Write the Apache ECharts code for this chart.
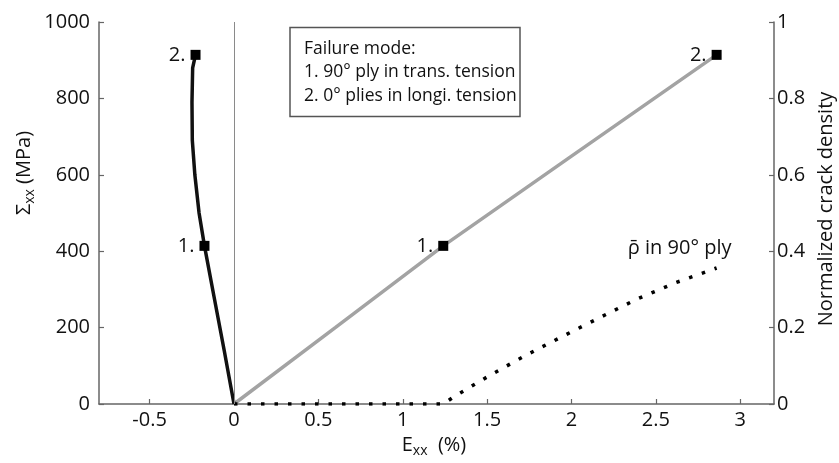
<!DOCTYPE html>
<html>
<head>
<meta charset="utf-8">
<script src="https://cdn.jsdelivr.net/npm/echarts@6/dist/echarts.min.js"></script>
<style>
  html, body { margin: 0; padding: 0; background: #fff; }
  #chart { width: 839px; height: 463px; }
</style>
</head>
<body>
<div id="chart"></div>
<script>
// Tick values of the three axes
const strainTicks = [-0.5, 0, 0.5, 1, 1.5, 2, 2.5, 3];
const stressTicks = [0, 200, 400, 600, 800, 1000];
const densityTicks = [0, 0.2, 0.4, 0.6, 0.8, 1];

// Transverse strain response (black curve): strain E_xx (%) vs stress (MPa)
const transStrain = [0, -0.058, -0.118, -0.175, -0.207, -0.232, -0.247, -0.249, -0.245, -0.228];
const transStress = [0, 140, 280, 414, 500, 600, 690, 790, 880, 914];

// Longitudinal strain response (grey curve)
const longStrain = [0, 0.6, 1.24, 2.0, 2.86];
const longStress = [0, 200, 414, 649, 914];

// Normalized crack density in the 90° ply (dotted curve, right axis)
const crackStrain = [0, 1.24, 1.31, 1.52, 1.74, 1.96, 2.18, 2.39, 2.62, 2.86];
const crackDensity = [0, 0, 0.021, 0.076, 0.13, 0.18, 0.229, 0.275, 0.318, 0.356];

// Failure events marked on both curves
const failureLabels = ['1.', '2.'];
const transFailStrain = [-0.175, -0.228];
const longFailStrain = [1.24, 2.86];
const failStress = [414, 914];

// Legend box lines
const boxLines = ['Failure mode:', '1. 90° ply in trans. tension', '2. 0° plies in longi. tension'];
const crackLabel = 'ρ\u0304 in 90° ply';

const FONT = '"Open Sans", "DejaVu Sans", sans-serif';
const TXT = '#111';
const AXIS = '#666';
const FS = 20;

const zip = (xs, ys) => xs.map((x, i) => [x, ys[i]]);
const markers = (xs) => xs.map((x, i) => [x, failStress[i], failureLabels[i]]);

const chart = echarts.init(document.getElementById('chart'), null, { renderer: 'canvas' });

const axisCommon = {
  axisLine: { show: true, onZero: false, lineStyle: { color: AXIS, width: 1.5 } },
  axisTick: { show: true, inside: true, length: 5, lineStyle: { color: AXIS, width: 1.2 } },
  splitLine: { show: false },
  axisLabel: { color: TXT, fontSize: FS, fontFamily: FONT, formatter: v => String(v) }
};

const markerLabel = {
  show: true, position: 'left', distance: 5,
  formatter: p => p.data[2], color: TXT, fontSize: FS, fontFamily: FONT
};

const option = {
  animation: false,
  backgroundColor: '#fff',
  grid: { left: 99, right: 65, top: 22, bottom: 59, containLabel: false },
  xAxis: {
    type: 'value', min: -0.8, max: 3.2,
    ...axisCommon,
    axisTick: { ...axisCommon.axisTick, customValues: strainTicks },
    axisLabel: { ...axisCommon.axisLabel, margin: 6, customValues: strainTicks }
  },
  yAxis: [
    {
      type: 'value', min: 0, max: 1000, interval: 200, position: 'left',
      ...axisCommon,
      axisLabel: { ...axisCommon.axisLabel, margin: 9 }
    },
    {
      type: 'value', min: 0, max: 1, interval: 0.2, position: 'right',
      ...axisCommon,
      axisLabel: { ...axisCommon.axisLabel, margin: 3 }
    }
  ],
  series: [
    {
      type: 'line', name: 'longitudinal',
      data: zip(longStrain, longStress),
      showSymbol: false, symbol: 'none',
      lineStyle: { color: '#a3a3a3', width: 3.5 },
      z: 2,
      markLine: {
        silent: true, symbol: 'none',
        data: [{ xAxis: 0 }],
        label: { show: false },
        lineStyle: { color: '#8a8a8a', width: 1, type: 'solid' }
      }
    },
    {
      type: 'line', name: 'transverse',
      data: zip(transStrain, transStress),
      showSymbol: false, symbol: 'none',
      lineStyle: { color: '#111', width: 3.5, join: 'round' },
      z: 3
    },
    {
      type: 'line', name: 'crack density', yAxisIndex: 1,
      data: zip(crackStrain, crackDensity),
      showSymbol: false, symbol: 'none',
      lineStyle: { color: '#000', width: 3.5, type: [3.5, 10], cap: 'butt' },
      z: 3
    },
    {
      type: 'scatter', name: 'failure (transverse)',
      data: markers(transFailStrain),
      symbol: 'rect', symbolSize: 10,
      itemStyle: { color: '#000', opacity: 1 },
      label: markerLabel,
      z: 5
    },
    {
      type: 'scatter', name: 'failure (longitudinal)',
      data: markers(longFailStrain),
      symbol: 'rect', symbolSize: 10,
      itemStyle: { color: '#000', opacity: 1 },
      label: markerLabel,
      z: 5
    }
  ]
};

chart.setOption(option);

// Annotation texts: axis titles, failure-mode box and the crack density label
const last = crackStrain.length - 1;
const crackEnd = chart.convertToPixel({ xAxisIndex: 0, yAxisIndex: 1 }, [crackStrain[last], crackDensity[last]]);

const subStyle = { fontSize: 14, fontFamily: FONT, fill: TXT, padding: [12, 0, 0, 0] };
const mainStyle = { fontSize: FS, fontFamily: FONT, fill: TXT };

chart.setOption({
  graphic: [
    {
      type: 'text', x: 434, y: 445,
      style: {
        text: '{m|E}{s|xx}{m|  (%)}',
        rich: { m: mainStyle, s: subStyle },
        align: 'center', verticalAlign: 'middle'
      }
    },
    {
      type: 'text', x: 24, y: 173, rotation: Math.PI / 2,
      style: {
        text: '{m|Σ}{s|xx}{m| (MPa)}',
        rich: { m: mainStyle, s: subStyle },
        align: 'center', verticalAlign: 'middle'
      }
    },
    {
      type: 'text', x: 826, y: 209, rotation: Math.PI / 2,
      style: {
        text: 'Normalized crack density',
        fontSize: FS, fontFamily: FONT, fill: TXT,
        align: 'center', verticalAlign: 'middle'
      }
    },
    {
      type: 'rect',
      shape: { x: 290, y: 27.5, width: 230, height: 89 },
      style: { fill: '#fff', stroke: '#555', lineWidth: 1.5 },
      z: 10
    },
    ...boxLines.map((t, i) => ({
      type: 'text', x: 304, y: 49 + i * 23.5, z: 11,
      style: { text: t, fontSize: 17.5, fontFamily: FONT, fill: TXT, align: 'left', verticalAlign: 'middle' }
    })),
    {
      type: 'text', x: crackEnd[0] - 37, y: crackEnd[1] - 20,
      style: { text: crackLabel, fontSize: FS, fontFamily: FONT, fill: TXT, align: 'center', verticalAlign: 'middle' }
    }
  ]
});
</script>
</body>
</html>
